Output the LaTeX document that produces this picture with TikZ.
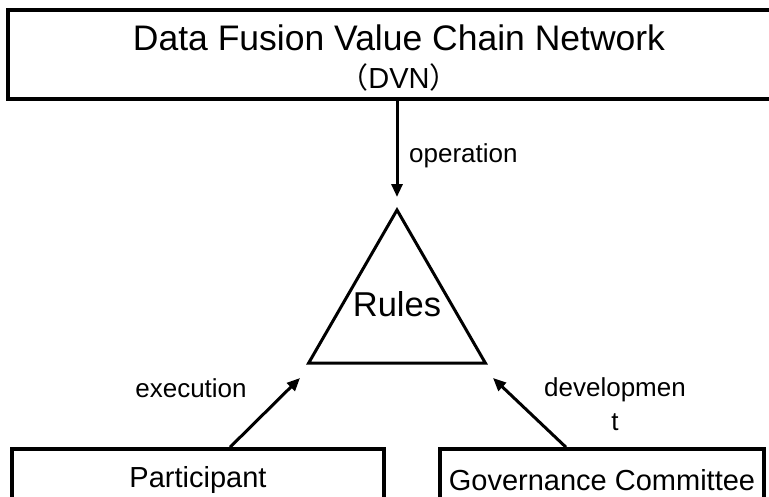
\documentclass[tikz,border=0pt]{standalone}
\usepackage{fontspec}
\setmainfont{Liberation Sans}
\newfontfamily\cjkfont{Noto Sans CJK JP}
\usetikzlibrary{shapes.geometric,arrows.meta,positioning}

\begin{document}
\begin{tikzpicture}[
    x=1pt, y=-1pt,
    box/.style={draw, line width=3.5pt, inner sep=0pt},
    flow/.style={-{Triangle[length=13pt,width=11pt]}, line width=3pt},
    lbl/.style={font=\fontsize{26}{32}\selectfont, align=center, inner sep=0pt}
    ]
\useasboundingbox (0,0) rectangle (769,496);
% network box, its right side runs off the page
\node[box, minimum width=782pt, minimum height=89pt] (dvn) at (399,54.5) {};
\node[align=center, inner sep=0pt, font=\fontsize{35.5}{38}\selectfont]
      (dvnlbl) at ([yshift=-4pt]dvn.center)
      {Data Fusion Value Chain Network\\
       {\fontsize{29}{32}\selectfont{\cjkfont （}DVN{\cjkfont ）}}};
\node[regular polygon, regular polygon sides=3, draw, line width=3pt,
      minimum size=204pt, inner sep=0pt] (rules) at (397,312) {};
\node[font=\fontsize{34.5}{36}\selectfont, inner sep=0pt] (ruleslbl)
      at ([yshift=8pt]rules.center) {Rules};
% the two boxes at the bottom run off the page too
\node[box, minimum width=372pt, minimum height=56pt] (part) at (198,477) {};
\node[box, minimum width=324pt, minimum height=56pt] (gov) at (602,477) {};
\node[font=\fontsize{29}{32}\selectfont, inner sep=0pt] (partlbl)
      at ([yshift=-3pt]part.center) {Participant};
\node[font=\fontsize{29}{32}\selectfont, inner sep=0pt] (govlbl)
      at ([yshift=-3pt]gov.center) {Governance Committee};
\coordinate (optip) at ([yshift=10pt]rules.corner 1);
\coordinate (extail) at ([xshift=32pt]part.north);
\coordinate (extip) at (300,378);
\coordinate (devtail) at ([xshift=-36pt]gov.north);
\coordinate (devtip) at (493,378);
\draw[flow] (dvn.south -| optip) -- (optip);
\draw[flow] (extail) -- (extip);
\draw[flow] (devtail) -- (devtip);
\node[lbl, anchor=west] (oplbl) at (409,156) {operation};
\node[lbl] (exlbl) at (191,388.5) {execution};
\node[lbl] (devlbl) at (615,404) {developmen\\[2pt]t};
\end{tikzpicture}
\end{document}
